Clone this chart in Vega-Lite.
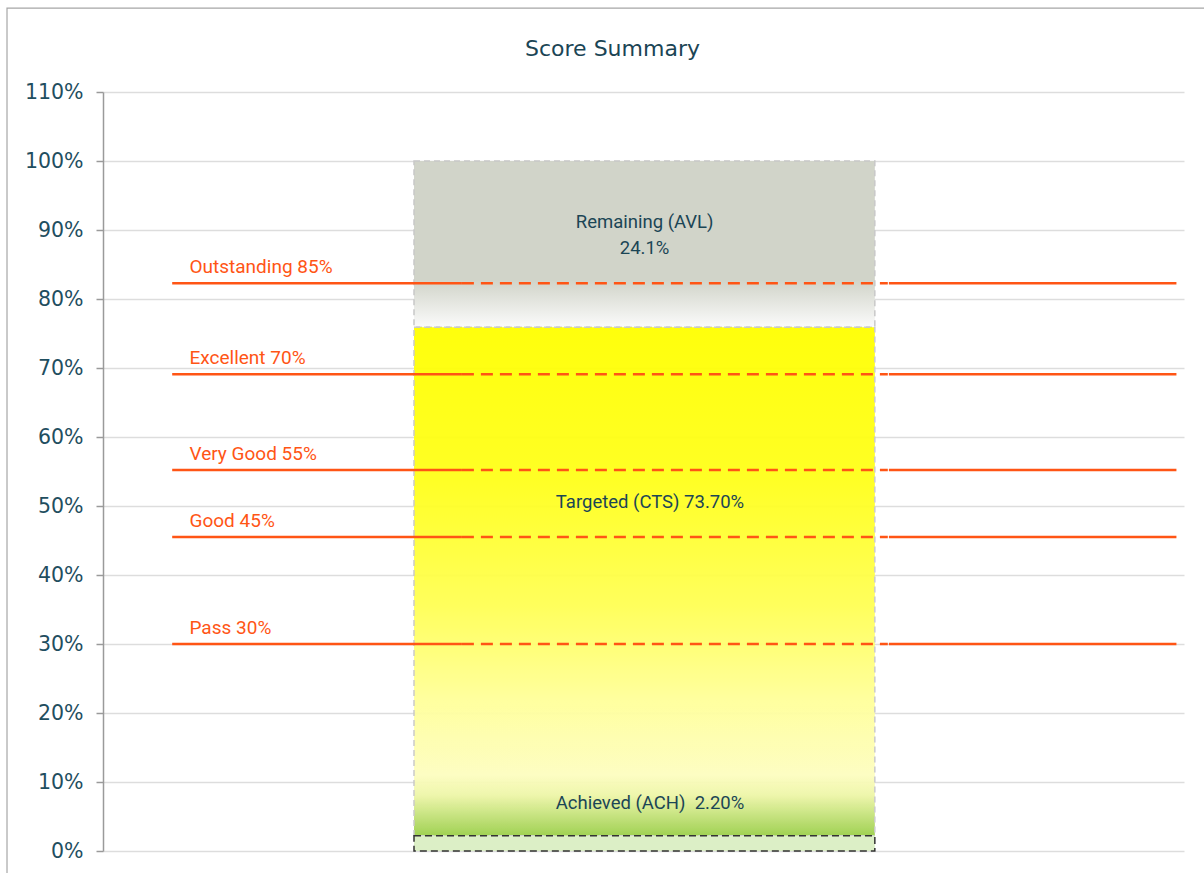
{
  "$schema": "https://vega.github.io/schema/vega-lite/v6.json",
  "autosize": "none",
  "width": 1081,
  "height": 759,
  "padding": {"left": 103, "top": 92, "right": 20, "bottom": 22},
  "background": "white",
  "title": {
    "text": "Score Summary",
    "font": "DejaVu Sans",
    "fontSize": 22,
    "fontWeight": "normal",
    "color": "#1b4555",
    "anchor": "middle",
    "dx": -31,
    "offset": -54
  },
  "config": {
    "view": {"stroke": null},
    "axis": {"labelFont": "DejaVu Sans"}
  },
  "datasets": {
    "frame": [{"part": "chart area"}],
    "segments": [
      {"segment": "Achieved (ACH)", "order": 1, "value": 0.022, "caption": "Achieved (ACH)\u00a0 2.20%"},
      {"segment": "Targeted (CTS)", "order": 2, "value": 0.737, "caption": "Targeted (CTS) 73.70%"},
      {"segment": "Remaining (AVL)", "order": 3, "value": 0.241, "caption": "Remaining (AVL)\n24.1%"}
    ],
    "thresholds": [
      {"label": "Outstanding 85%", "level": 0.823},
      {"label": "Excellent 70%", "level": 0.691},
      {"label": "Very Good 55%", "level": 0.552},
      {"label": "Good 45%", "level": 0.455},
      {"label": "Pass 30%", "level": 0.300}
    ]
  },
  "layer": [
    {
      "data": {"name": "frame"},
      "mark": {"type": "rect", "fill": null, "stroke": "#a6a6a6", "strokeWidth": 1.2, "clip": false},
      "encoding": {
        "x": {"datum": -0.0888, "type": "quantitative", "scale": {"domain": [0, 1], "nice": false, "zero": false, "clamp": false}, "axis": null},
        "x2": {"datum": 1.025},
        "y": {"datum": 1.2217, "type": "quantitative"},
        "y2": {"datum": -0.045}
      }
    },
    {
      "data": {"name": "segments"},
      "transform": [
        {"stack": "value", "groupby": [], "sort": [{"field": "order"}], "as": ["start", "end"]},
        {"filter": "datum.segment === 'Remaining (AVL)'"}
      ],
      "mark": {
        "type": "bar",
        "stroke": "#c8c8c8",
        "strokeWidth": 1.5,
        "strokeDash": [6, 4],
        "color": {
          "gradient": "linear", "x1": 0, "y1": 0, "x2": 0, "y2": 1,
          "stops": [
            {"offset": 0, "color": "#d1d4c9"},
            {"offset": 0.72, "color": "#d1d4c9"},
            {"offset": 1, "color": "#fbfbfb"}
          ]
        }
      },
      "encoding": {
        "x": {"datum": 0.2877, "type": "quantitative"},
        "x2": {"datum": 0.714},
        "y": {"field": "start", "type": "quantitative",
          "scale": {"domain": [0, 1.1], "nice": false, "zero": true, "clamp": false},
          "axis": {
            "title": null,
            "values": [0, 0.1, 0.2, 0.3, 0.4, 0.5, 0.6, 0.7, 0.8, 0.9, 1.0, 1.1],
            "format": ".0%",
            "labelFontSize": 20.5,
            "labelColor": "#1f4e5f",
            "labelPadding": 13,
            "domainColor": "#9a9a9a",
            "domainWidth": 1.5,
            "tickColor": "#9a9a9a",
            "tickWidth": 1.5,
            "tickSize": 7,
            "grid": true,
            "gridColor": "#dddddd",
            "gridWidth": 1.5
          }
        },
        "y2": {"field": "end"}
      }
    },
    {
      "data": {"name": "segments"},
      "transform": [
        {"stack": "value", "groupby": [], "sort": [{"field": "order"}], "as": ["start", "end"]},
        {"filter": "datum.segment === 'Targeted (CTS)'"}
      ],
      "mark": {
        "type": "bar",
        "stroke": "#c8c8c8",
        "strokeWidth": 1.5,
        "strokeDash": [6, 4],
        "opacity": 0.95,
        "color": {
          "gradient": "linear", "x1": 0, "y1": 0, "x2": 0, "y2": 1,
          "stops": [
            {"offset": 0, "color": "#ffff00"},
            {"offset": 0.3, "color": "#ffff1a"},
            {"offset": 0.55, "color": "#ffff55"},
            {"offset": 0.73, "color": "#ffff99"},
            {"offset": 0.88, "color": "#fdfdc0"},
            {"offset": 0.92, "color": "#eef6a8"},
            {"offset": 0.96, "color": "#c4e27a"},
            {"offset": 1, "color": "#9bcf4a"}
          ]
        }
      },
      "encoding": {
        "x": {"datum": 0.2877, "type": "quantitative"},
        "x2": {"datum": 0.714},
        "y": {"field": "start", "type": "quantitative"},
        "y2": {"field": "end"}
      }
    },
    {
      "data": {"name": "segments"},
      "transform": [
        {"stack": "value", "groupby": [], "sort": [{"field": "order"}], "as": ["start", "end"]},
        {"filter": "datum.segment === 'Achieved (ACH)'"}
      ],
      "mark": {
        "type": "bar",
        "fill": "#dcefc6",
        "stroke": "#333333",
        "strokeWidth": 1.5,
        "strokeDash": [7, 4]
      },
      "encoding": {
        "x": {"datum": 0.2877, "type": "quantitative"},
        "x2": {"datum": 0.714},
        "y": {"field": "start", "type": "quantitative"},
        "y2": {"field": "end"}
      }
    },
    {
      "data": {"name": "thresholds"},
      "mark": {"type": "rule", "color": "#ff5515", "strokeWidth": 2.5},
      "encoding": {
        "x": {"datum": 0.064, "type": "quantitative"},
        "x2": {"datum": 0.332},
        "y": {"field": "level", "type": "quantitative"}
      }
    },
    {
      "data": {"name": "thresholds"},
      "mark": {"type": "rule", "color": "#ff5515", "strokeWidth": 2.5, "strokeDash": [12, 7]},
      "encoding": {
        "x": {"datum": 0.332, "type": "quantitative"},
        "x2": {"datum": 0.726},
        "y": {"field": "level", "type": "quantitative"}
      }
    },
    {
      "data": {"name": "thresholds"},
      "mark": {"type": "rule", "color": "#ff5515", "strokeWidth": 2.5},
      "encoding": {
        "x": {"datum": 0.727, "type": "quantitative"},
        "x2": {"datum": 0.993},
        "y": {"field": "level", "type": "quantitative"}
      }
    },
    {
      "data": {"name": "thresholds"},
      "mark": {"type": "text", "color": "#ff5515", "font": "Roboto", "fontSize": 19, "align": "left", "baseline": "middle", "dy": -16},
      "encoding": {
        "x": {"datum": 0.08, "type": "quantitative"},
        "y": {"field": "level", "type": "quantitative"},
        "text": {"field": "label"}
      }
    },
    {
      "data": {"name": "segments"},
      "transform": [
        {"stack": "value", "groupby": [], "sort": [{"field": "order"}], "as": ["start", "end"]},
        {"filter": "datum.segment === 'Remaining (AVL)'"}
      ],
      "mark": {"type": "text", "color": "#1b4555", "font": "Roboto", "fontSize": 18.5, "align": "center", "baseline": "middle", "lineBreak": "\n", "lineHeight": 26, "dy": 61},
      "encoding": {
        "x": {"datum": 0.501, "type": "quantitative"},
        "y": {"field": "end", "type": "quantitative"},
        "text": {"field": "caption"}
      }
    },
    {
      "data": {"name": "segments"},
      "transform": [
        {"stack": "value", "groupby": [], "sort": [{"field": "order"}], "as": ["start", "end"]},
        {"filter": "datum.segment === 'Targeted (CTS)'"}
      ],
      "mark": {"type": "text", "color": "#1b4555", "font": "Roboto", "fontSize": 18.5, "align": "center", "baseline": "middle", "dy": 175},
      "encoding": {
        "x": {"datum": 0.506, "type": "quantitative"},
        "y": {"field": "end", "type": "quantitative"},
        "text": {"field": "caption"}
      }
    },
    {
      "data": {"name": "segments"},
      "transform": [
        {"stack": "value", "groupby": [], "sort": [{"field": "order"}], "as": ["start", "end"]},
        {"filter": "datum.segment === 'Achieved (ACH)'"}
      ],
      "mark": {"type": "text", "color": "#1b4555", "font": "Roboto", "fontSize": 18.5, "align": "center", "baseline": "middle", "dy": -33},
      "encoding": {
        "x": {"datum": 0.506, "type": "quantitative"},
        "y": {"field": "end", "type": "quantitative"},
        "text": {"field": "caption"}
      }
    }
  ]
}
